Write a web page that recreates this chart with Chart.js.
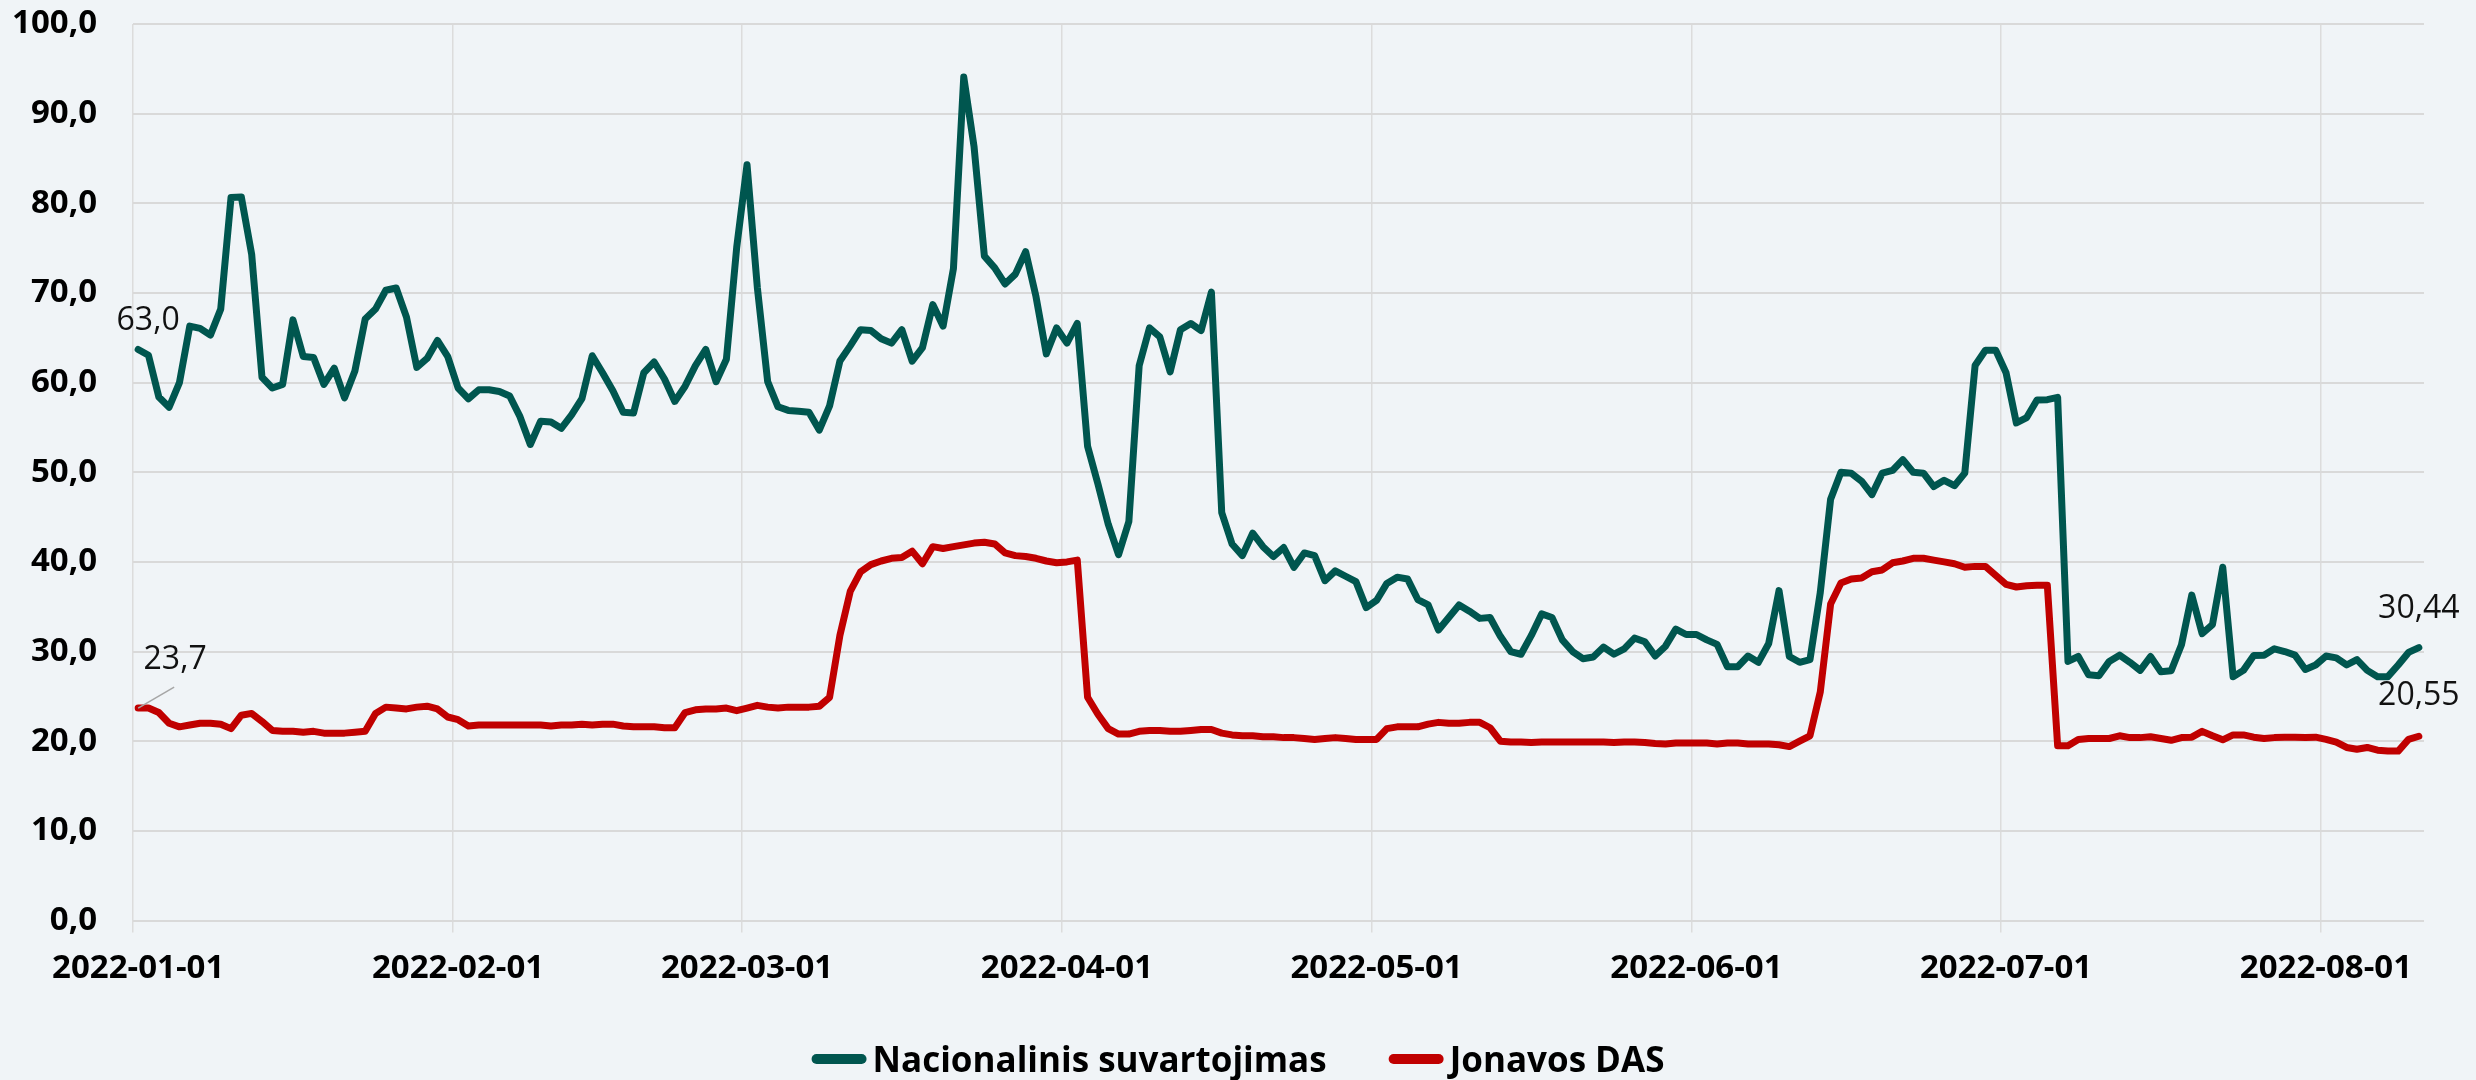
<!DOCTYPE html>
<html lang="lt">
<head>
<meta charset="utf-8">
<title>Nacionalinis suvartojimas / Jonavos DAS</title>
<script src="https://cdn.jsdelivr.net/npm/chart.js@4.4.1/dist/chart.umd.min.js"></script>
<style>
  html, body { margin: 0; padding: 0; background: #f0f4f7; }
  #wrap { width: 2476px; height: 1080px; }
</style>
</head>
<body>
<div id="wrap"><canvas id="lineChart" width="2476" height="1080"></canvas></div>
<script>
/* ── Data ────────────────────────────────────────────────────────────────── */
const START_DATE = [2022, 0, 1];   // y, m (0-based), d – first day of the series

const NATIONAL = [
  63.7, 63.05, 58.4, 57.25, 60.0, 66.3, 66.05, 65.3, 68.2, 80.66,
  80.7, 74.3, 60.6, 59.4, 59.8, 67.0, 62.9, 62.8, 59.8, 61.6,
  58.3, 61.3, 67.1, 68.2, 70.3, 70.55, 67.3, 61.7, 62.7, 64.7,
  62.9, 59.4, 58.2, 59.2, 59.2, 59.0, 58.5,
  56.2, 53.1, 55.7, 55.6, 54.9, 56.4, 58.2, 63.0, 61.1, 59.1,
  56.7, 56.6, 61.1, 62.3, 60.4, 57.9, 59.6, 61.9, 63.7, 60.1,
  62.6, 75.1, 84.3, 70.6, 60.1, 57.3, 56.9, 56.8, 56.7, 54.7,
  57.4, 62.4, 64.1, 65.9, 65.8, 64.9, 64.4,
  65.9, 62.4, 63.9, 68.7, 66.3, 72.7, 94.1, 86.3, 74.1, 72.8,
  71.0, 72.1, 74.6, 69.6, 63.2, 66.1, 64.4, 66.6, 52.9, 48.7,
  44.2, 40.8, 44.5, 61.9, 66.1, 65.1, 61.2, 65.9, 66.6, 65.8,
  70.1, 45.5, 42.0, 40.7, 43.2, 41.7, 40.6,
  41.6, 39.4, 41.0, 40.7, 37.9, 39.0, 38.4, 37.8, 34.9, 35.7,
  37.6, 38.3, 38.1, 35.8, 35.2, 32.4, 33.8, 35.2, 34.5, 33.7,
  33.8, 31.7, 30.0, 29.7, 31.8, 34.2, 33.8, 31.3, 30.0, 29.2,
  29.4, 30.5, 29.7, 30.3, 31.5, 31.1, 29.5,
  30.6, 32.5, 31.9, 31.9, 31.3, 30.8, 28.3, 28.3, 29.5, 28.8,
  30.9, 36.8, 29.45, 28.8, 29.1, 36.6, 47.0, 50.0, 49.9, 49.0,
  47.5, 49.9, 50.2, 51.4, 50.0, 49.9, 48.4, 49.1, 48.5, 49.9,
  61.9, 63.6, 63.6, 61.1, 55.5, 56.1, 58.05,
  58.1, 58.35, 28.9, 29.45, 27.4, 27.3, 28.9, 29.6, 28.8, 27.9,
  29.45, 27.75, 27.85, 30.75, 36.3, 32.0, 33.0, 39.4, 27.2, 27.9,
  29.55, 29.6, 30.3, 30.0, 29.6, 28.0, 28.5, 29.5, 29.3, 28.5,
  29.1, 27.9, 27.2, 27.2, 28.5, 29.9, 30.44
];

const JONAVA = [
  23.7, 23.7, 23.2, 22.0, 21.6, 21.8, 22.0, 22.0, 21.9, 21.4,
  22.9, 23.1, 22.2, 21.2, 21.1, 21.1, 21.0, 21.1, 20.9, 20.9,
  20.9, 21.0, 21.1, 23.1, 23.8, 23.7, 23.6, 23.8, 23.9, 23.6,
  22.7, 22.4, 21.7, 21.8, 21.8, 21.8, 21.8,
  21.8, 21.8, 21.8, 21.7, 21.8, 21.8, 21.9, 21.8, 21.9, 21.9,
  21.7, 21.6, 21.6, 21.6, 21.5, 21.5, 23.2, 23.5, 23.6, 23.6,
  23.7, 23.4, 23.7, 24.0, 23.8, 23.7, 23.8, 23.8, 23.8, 23.9,
  24.9, 31.8, 36.7, 38.9, 39.7, 40.1, 40.4,
  40.5, 41.2, 39.8, 41.7, 41.5, 41.7, 41.9, 42.1, 42.2, 42.0,
  41.0, 40.7, 40.6, 40.4, 40.1, 39.9, 40.0, 40.2, 24.9, 23.0,
  21.4, 20.8, 20.8, 21.1, 21.2, 21.2, 21.1, 21.1, 21.2, 21.3,
  21.3, 20.9, 20.7, 20.6, 20.6, 20.5, 20.5,
  20.4, 20.4, 20.3, 20.2, 20.3, 20.4, 20.3, 20.2, 20.2, 20.2,
  21.4, 21.6, 21.6, 21.6, 21.9, 22.1, 22.0, 22.0, 22.1, 22.1,
  21.5, 20.0, 19.9, 19.9, 19.85, 19.9, 19.9, 19.9, 19.9, 19.9,
  19.9, 19.9, 19.85, 19.9, 19.9, 19.85, 19.75,
  19.7, 19.8, 19.8, 19.8, 19.8, 19.7, 19.8, 19.8, 19.7, 19.7,
  19.7, 19.6, 19.4, 20.0, 20.6, 25.5, 35.3, 37.65, 38.1, 38.2,
  38.9, 39.1, 39.9, 40.1, 40.4, 40.4, 40.2, 40.0, 39.8, 39.4,
  39.5, 39.5, 38.5, 37.5, 37.2, 37.35, 37.4,
  37.4, 19.5, 19.5, 20.2, 20.3, 20.3, 20.3, 20.6, 20.4, 20.4,
  20.5, 20.3, 20.1, 20.4, 20.45, 21.1, 20.6, 20.15, 20.7, 20.7,
  20.45, 20.3, 20.4, 20.45, 20.45, 20.4, 20.45, 20.2, 19.9, 19.3,
  19.1, 19.3, 19.0, 18.9, 18.9, 20.2, 20.55
];

const SERIES_NAMES = ['Nacionalinis suvartojimas', 'Jonavos DAS'];

// texts of the value callouts, as printed on the chart: [series, point index, text]
const CALLOUTS = [
  [0, 0, '63,0'],
  [1, 0, '23,7'],
  [0, NATIONAL.length - 1, '30,44'],
  [1, JONAVA.length - 1, '20,55']
];

/* ── Helpers ─────────────────────────────────────────────────────────────── */
const DATES = NATIONAL.map((_, i) =>
  new Date(Date.UTC(START_DATE[0], START_DATE[1], START_DATE[2] + i)).toISOString().slice(0, 10));

const isMonthStart = i => DATES[i] !== undefined && DATES[i].endsWith('-01');
const fmtComma     = v => v.toFixed(1).replace('.', ',');

const FONT   = "'Open Sans', 'Noto Sans', sans-serif";
const GREEN  = '#00564f';
const RED    = '#c00000';
const BG     = '#f0f4f7';

/* ── Plugins ─────────────────────────────────────────────────────────────── */
const background = {
  id: 'background',
  beforeDraw(chart) {
    const c = chart.ctx;
    c.save();
    c.fillStyle = BG;
    c.fillRect(0, 0, chart.width, chart.height);
    c.restore();
  }
};

// offsets of each callout from its point (style only)
const CALLOUT_OFFSETS = [[10, -29], [37, -48], [0, -39], [0, -40]];

const callouts = {
  id: 'callouts',
  afterDatasetsDraw(chart) {
    const c = chart.ctx;
    c.save();
    c.font = `32px ${FONT}`;
    c.fillStyle = '#111';
    c.textAlign = 'center';
    c.textBaseline = 'middle';
    CALLOUTS.forEach(([ds, idx, text], k) => {
      const pt = chart.getDatasetMeta(ds).data[idx];
      const [dx, dy] = CALLOUT_OFFSETS[k];
      if (k === 1) {
        // leader line for the 23,7 label
        c.strokeStyle = '#a6a6a6';
        c.lineWidth = 1.5;
        c.beginPath();
        c.moveTo(pt.x, pt.y);
        c.lineTo(pt.x + 36, pt.y - 21);
        c.stroke();
      }
      c.fillText(text, pt.x + dx, pt.y + dy);
    });
    c.restore();
  }
};

// bottom legend: short thick line + bold name, tight marker gap, wide item gap
const bottomLegend = {
  id: 'bottomLegend',
  afterDraw(chart) {
    const c = chart.ctx;
    const markW = 55, markGap = 6, itemGap = 62, midY = 1059;
    c.save();
    c.font = `bold 35px ${FONT}`;
    const items = chart.data.datasets.map(ds => ({
      text: ds.label, color: ds.borderColor, w: c.measureText(ds.label).width
    }));
    const total = items.reduce((s, it) => s + markW + markGap + it.w, 0) + itemGap * (items.length - 1);
    let x = chart.width / 2 - total / 2;
    items.forEach(it => {
      c.strokeStyle = it.color;
      c.lineWidth = 10;
      c.lineCap = 'round';
      c.beginPath();
      c.moveTo(x + 5, midY);
      c.lineTo(x + markW - 5, midY);
      c.stroke();
      x += markW + markGap;
      c.fillStyle = '#000';
      c.textAlign = 'left';
      c.textBaseline = 'alphabetic';
      c.fillText(it.text, x, midY + 13);
      x += it.w + itemGap;
    });
    c.restore();
  }
};

/* ── Chart ───────────────────────────────────────────────────────────────── */
const ctx = document.getElementById('lineChart').getContext('2d');

new Chart(ctx, {
  type: 'line',
  data: {
    labels: DATES,
    datasets: [
      {
        label: SERIES_NAMES[0],
        data: NATIONAL,
        borderColor: GREEN,
        backgroundColor: GREEN,
        borderWidth: 7,
        borderCapStyle: 'round',
        borderJoinStyle: 'round',
        pointRadius: 0,
        tension: 0
      },
      {
        label: SERIES_NAMES[1],
        data: JONAVA,
        borderColor: RED,
        backgroundColor: RED,
        borderWidth: 7,
        borderCapStyle: 'round',
        borderJoinStyle: 'round',
        pointRadius: 0,
        tension: 0
      }
    ]
  },
  options: {
    responsive: false,
    animation: false,
    layout: { padding: { top: 24, right: 52, bottom: 79.5, left: 0 } },
    plugins: {
      legend: { display: false },
      tooltip: { enabled: false }
    },
    scales: {
      x: {
        type: 'category',
        offset: true,
        afterFit: s => { s.height = 80; s.paddingLeft = 0; s.paddingRight = 0; },
        border: { display: false },
        grid: {
          offset: true,
          tickLength: 12,
          lineWidth: 1.5,
          color: c => (c.tick && isMonthStart(c.index)) ? '#dcdcdc' : 'rgba(0,0,0,0)'
        },
        ticks: {
          autoSkip: false,
          maxRotation: 0,
          minRotation: 0,
          padding: 16,
          color: '#000',
          font: { family: FONT, size: 33, weight: 'bold' },
          callback: function (value, i) { return isMonthStart(i) ? DATES[i] : ''; }
        }
      },
      y: {
        min: 0,
        max: 100,
        afterFit: s => { s.width = 133; s.paddingTop = 0; s.paddingBottom = 0; },
        border: { display: false },
        grid: { drawTicks: false, color: '#d9d9d9', lineWidth: 2 },
        ticks: {
          stepSize: 10,
          padding: 36,
          color: '#000',
          font: { family: FONT, size: 33, weight: 'bold' },
          callback: v => fmtComma(v)
        }
      }
    }
  },
  plugins: [background, callouts, bottomLegend]
});
</script>
</body>
</html>
